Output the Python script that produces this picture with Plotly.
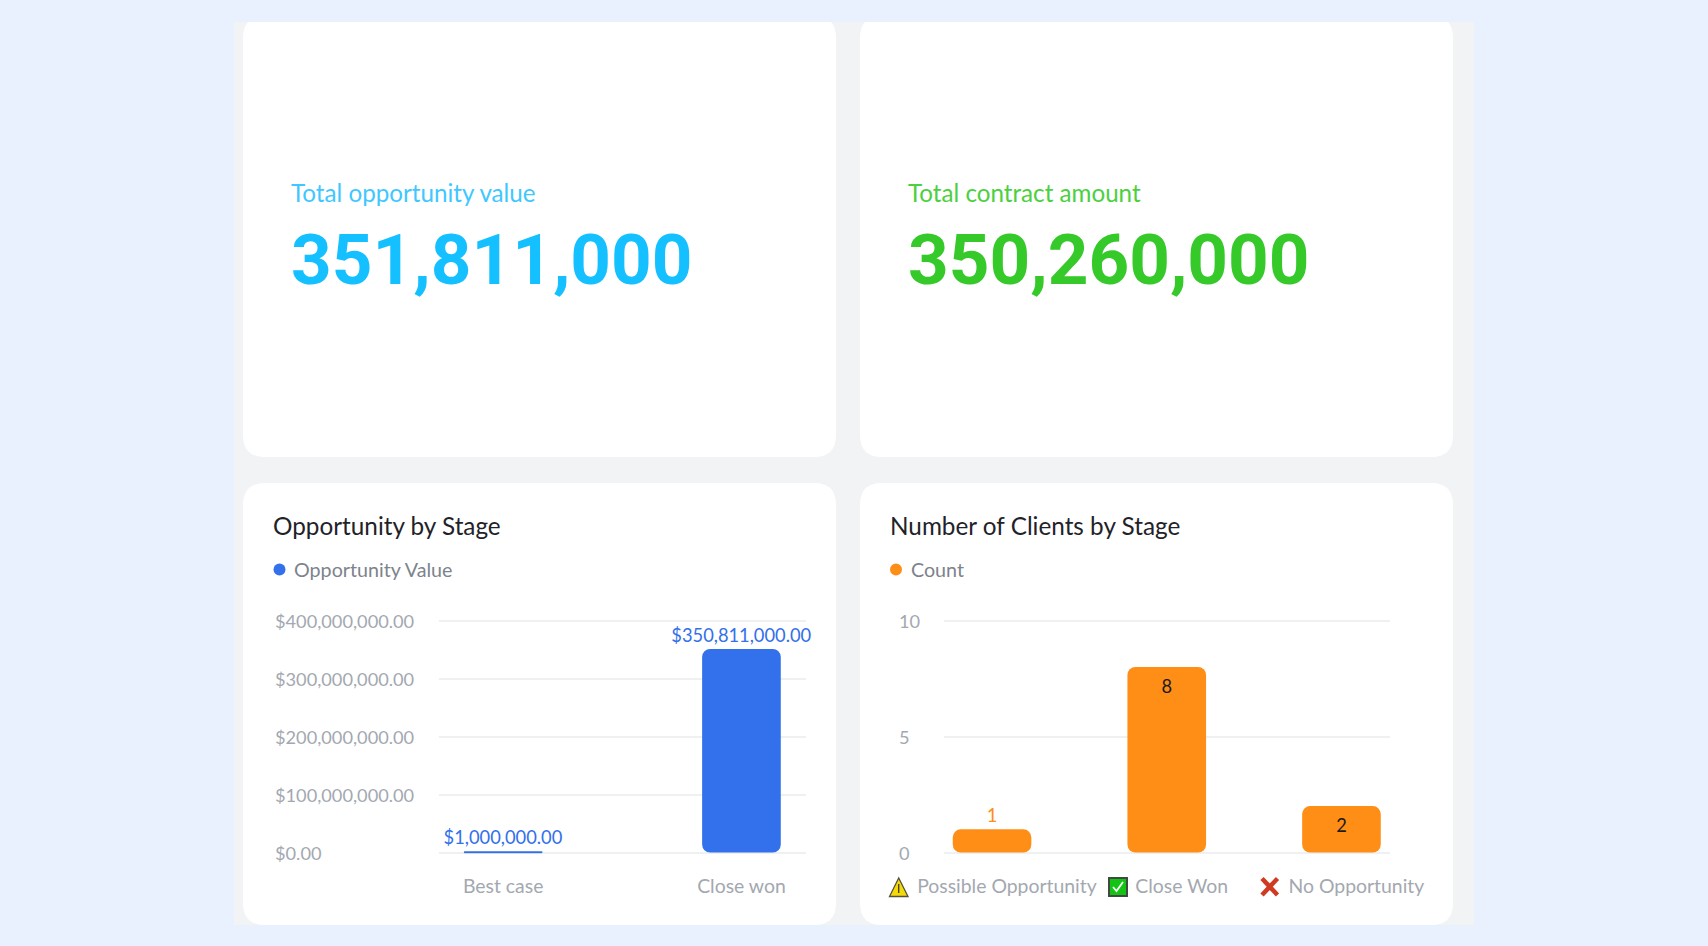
import plotly.graph_objects as go

W, H = 1708, 946

# ---- data ----
stage_categories = ["Best case", "Close won"]
opportunity_values = [1000000, 350811000]
opportunity_labels = ["$1,000,000.00", "$350,811,000.00"]
opportunity_ticks = [0, 100000000, 200000000, 300000000, 400000000]
opportunity_ticktext = ["$0.00", "$100,000,000.00", "$200,000,000.00", "$300,000,000.00", "$400,000,000.00"]

client_categories = ["Possible Opportunity", "Close Won", "No Opportunity"]
client_counts = [1, 8, 2]
client_ticks = [0, 5, 10]

total_opportunity_label = "Total opportunity value"
total_opportunity_value = "351,811,000"
total_contract_label = "Total contract amount"
total_contract_value = "350,260,000"

# ---- styles ----
FONT = "Lato"
BLUE, ORANGE = "#3370EB", "#FF8E17"
GREY_TEXT, DARK_TEXT = "#A3A8B0", "#1F2329"
GRID = "#EEF0F2"


def px(x):
    return x / W


def py(y):
    return 1 - y / H


def round_rect(x0, y0, x1, y1, r, fill):
    p = (f"M {px(x0 + r)} {py(y0)} L {px(x1 - r)} {py(y0)} Q {px(x1)} {py(y0)} {px(x1)} {py(y0 + r)} "
         f"L {px(x1)} {py(y1 - r)} Q {px(x1)} {py(y1)} {px(x1 - r)} {py(y1)} "
         f"L {px(x0 + r)} {py(y1)} Q {px(x0)} {py(y1)} {px(x0)} {py(y1 - r)} "
         f"L {px(x0)} {py(y0 + r)} Q {px(x0)} {py(y0)} {px(x0 + r)} {py(y0)} Z")
    return dict(type="path", xref="paper", yref="paper", path=p, fillcolor=fill, line_width=0, layer="below")


def rect(x0, y0, x1, y1, fill, layer="below"):
    return dict(type="rect", xref="paper", yref="paper", x0=px(x0), x1=px(x1), y0=py(y0), y1=py(y1),
                fillcolor=fill, line_width=0, layer=layer)


def dot(cx, cy, r, fill):
    return dict(type="circle", xref="paper", yref="paper", x0=px(cx - r), x1=px(cx + r), y0=py(cy + r), y1=py(cy - r),
                fillcolor=fill, line_width=0, layer="below")


def poly(points, fill, line=None, width=0):
    p = "M " + " L ".join(f"{px(a)} {py(b)}" for a, b in points) + " Z"
    return dict(type="path", xref="paper", yref="paper", path=p, fillcolor=fill,
                line=dict(color=line or fill, width=width), layer="above")


def polyline(points, color, width):
    p = "M " + " L ".join(f"{px(a)} {py(b)}" for a, b in points)
    return dict(type="path", xref="paper", yref="paper", path=p, line=dict(color=color, width=width), layer="above")


def label(x, y, text, size, color, family=FONT, weight=None):
    f = dict(size=size, color=color, family=family)
    if weight:
        f["weight"] = weight
    return dict(xref="paper", yref="paper", x=px(x), y=py(y), text=text, showarrow=False, xanchor="left",
                yanchor="middle", font=f, borderpad=0, borderwidth=0)


fig = go.Figure()
# an explicit base makes Plotly round all four corners of each bar
fig.add_bar(x=stage_categories, y=opportunity_values, base=[0 for _ in opportunity_values], width=0.33,
            marker=dict(color=BLUE, cornerradius=8, line_width=0), text=opportunity_labels, textposition="outside",
            textangle=0, constraintext="none", cliponaxis=False, showlegend=False, name="Opportunity Value",
            textfont=dict(color=BLUE, size=18.3, family=FONT), xaxis="x", yaxis="y")
fig.add_bar(x=client_categories, y=client_counts, base=[0 for _ in client_counts], width=0.45,
            marker=dict(color=ORANGE, cornerradius=8, line_width=0), text=[str(v) for v in client_counts],
            textposition=["outside", "inside", "inside"], insidetextanchor="end",
            textangle=0, constraintext="none", cliponaxis=False, showlegend=False, name="Count",
            textfont=dict(color=[ORANGE, "#1a1a1a", "#1a1a1a"], size=18.3, family=FONT), xaxis="x2", yaxis="y2")

shapes = [
    rect(234, 22, 1474, 925, "#F2F3F5"),
    round_rect(243, 16, 836, 457, 22, "#FFFFFF"),
    round_rect(860, 16, 1453, 457, 22, "#FFFFFF"),
    rect(0, 0, W, 22, "#E9F0FE"),
    round_rect(243, 483, 836, 925, 22, "#FFFFFF"),
    round_rect(860, 483, 1453, 925, 22, "#FFFFFF"),
    dot(279.5, 569.5, 6, BLUE),
    dot(896, 569.5, 6, ORANGE),
    # icons in front of the right chart's category labels
    poly([(898.7, 878), (889.5, 896.5), (908, 896.5)], "#F5D90A", "#55503A", 1.3),
    polyline([(898.7, 884), (898.7, 893)], "#3A3A20", 1.3),
    rect(1108, 877, 1128, 897, "#3F4A40", "above"),
    rect(1110, 879, 1126, 895, "#14C414", "above"),
    polyline([(1113, 887), (1116.5, 891), (1123, 882)], "#FFFFFF", 1.8),
    polyline([(1262, 878.5), (1277.5, 895)], "#D13A22", 4.5),
    polyline([(1277.5, 878.5), (1262, 895)], "#D13A22", 4.5),
]

annotations = [
    label(291, 193, total_opportunity_label, 24.2, "#3FC8FF"),
    label(291, 259, total_opportunity_value, 71, "#14C0FF", "Roboto", 700),
    label(908, 193, total_contract_label, 24.2, "#4CD03F"),
    label(908, 259, total_contract_value, 71, "#35C92A", "Roboto", 700),
    label(272.5, 525, "Opportunity by Stage", 24.3, DARK_TEXT),
    label(889.5, 525, "Number of Clients by Stage", 24.3, DARK_TEXT),
    label(294, 569.5, "Opportunity Value", 19.7, "#7D838C"),
    label(911, 569.5, "Count", 19.7, "#7D838C"),
]
for v, t in zip(opportunity_ticks, opportunity_ticktext):
    annotations.append(dict(xref="paper", yref="y", x=px(272.5), y=v, text=t, showarrow=False, xanchor="left",
                            yanchor="middle", yshift=0, font=dict(size=18.2, color=GREY_TEXT, family=FONT)))
for v in client_ticks:
    annotations.append(dict(xref="paper", yref="y2", x=px(897), y=v, text=str(v), showarrow=False, xanchor="left",
                            yanchor="middle", yshift=0, font=dict(size=18.2, color=GREY_TEXT, family=FONT)))

axis_x = dict(showgrid=False, zeroline=False, showline=False, ticks="outside", ticklen=15, tickcolor="rgba(0,0,0,0)",
              tickfont=dict(size=19.4, color=GREY_TEXT, family=FONT), fixedrange=True, automargin=False, tickangle=0)
axis_y = dict(gridcolor=GRID, gridwidth=1.5, zeroline=False, showline=False, showticklabels=False, ticks="",
              fixedrange=True, automargin=False)

# ranges reach just past the end ticks so the first and last gridlines are kept
fig.update_layout(
    width=W, height=H, autosize=False,
    margin=dict(l=0, r=0, t=0, b=0, pad=0),
    paper_bgcolor="#E9F0FE", plot_bgcolor="rgba(0,0,0,0)",
    barmode="overlay", showlegend=False,
    shapes=shapes, annotations=annotations,
    font=dict(family=FONT),
    xaxis=dict(domain=[px(438.8), px(805.8)], type="category", range=[-0.27, 1.27], anchor="y",
               tickmode="array", tickvals=stage_categories, ticktext=stage_categories, **axis_x),
    yaxis=dict(domain=[py(853.66), py(619.34)], range=[-2000000, 402000000], anchor="x", tickmode="array",
               tickvals=opportunity_ticks, **axis_y),
    xaxis2=dict(domain=[px(944), px(1389.5)], type="category", range=[-0.275, 2.275], anchor="y2",
                tickmode="array", tickvals=client_categories,
                ticktext=["\u00a0" * 6 + c for c in client_categories], **axis_x),
    yaxis2=dict(domain=[py(853.66), py(619.34)], range=[-0.05, 10.05], anchor="x2", tickmode="array",
                tickvals=client_ticks, **axis_y),
)

fig.write_html("out.html", config=dict(displayModeBar=False),
               post_script="document.body.style.margin='0';document.body.style.overflow='hidden';document.documentElement.style.background='#E9F0FE';")
